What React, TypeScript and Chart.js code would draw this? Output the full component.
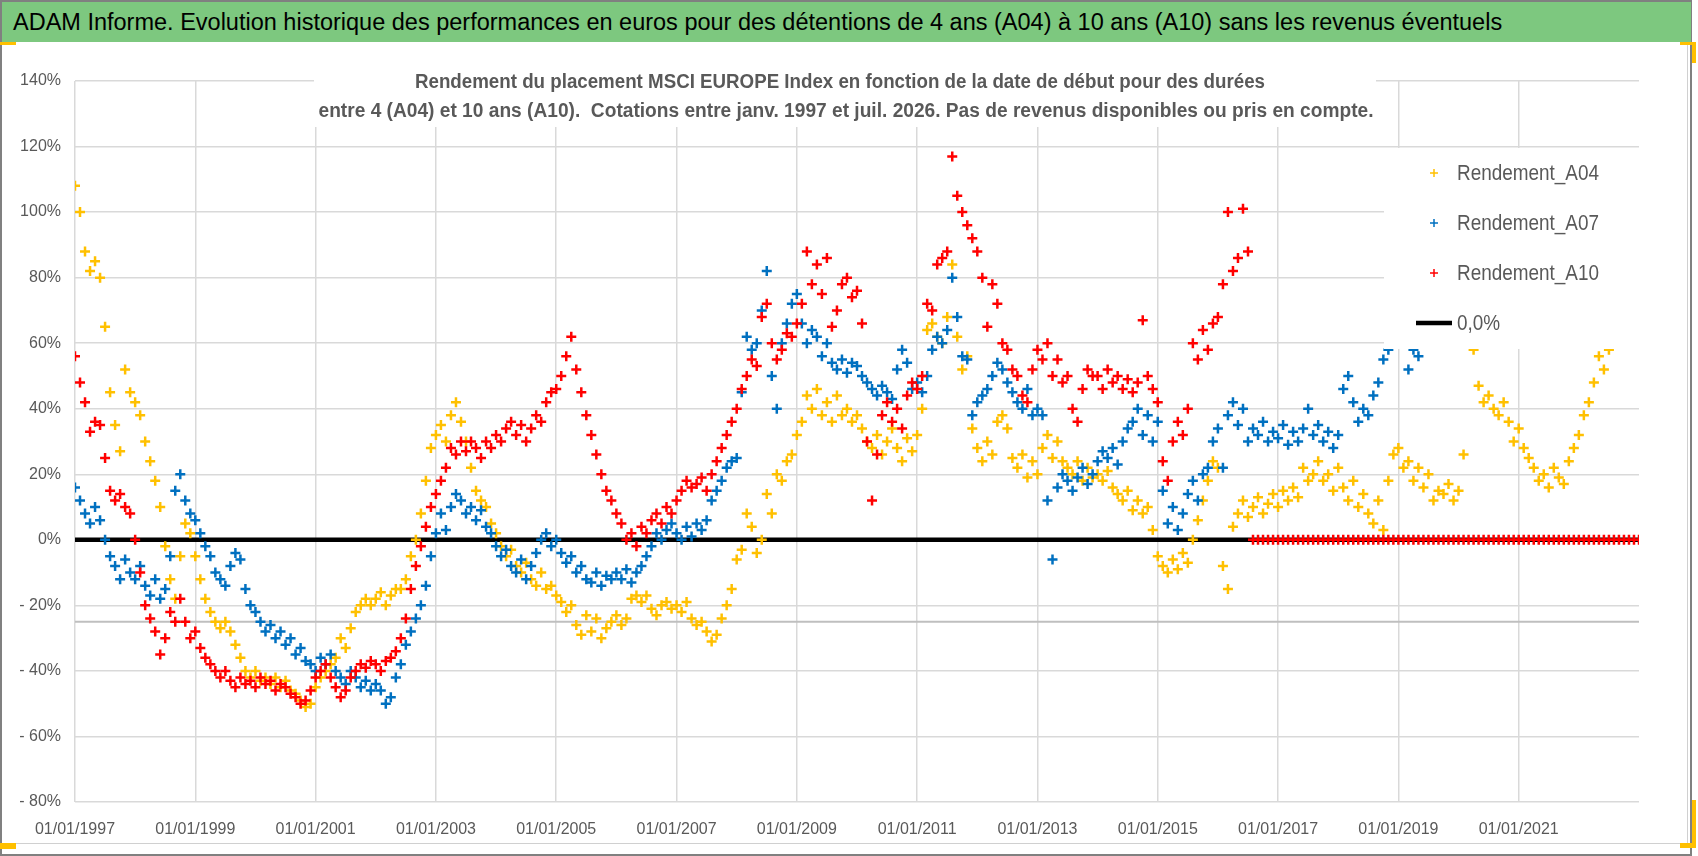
import React, { useEffect, useRef } from "react";
import { Chart, registerables } from "chart.js";

Chart.register(...registerables);

// monthly readings (in %), first value = January 1997
const START_YEAR = 1997;
const END_YEAR = 2023;

const rendementA04 = [
  108, 100, 88, 82, 85, 80, 65, 45, 35, 27, 52, 45,
  42, 38, 30, 24, 18, 10, -2, -12, -18, -5, 5, 2,
  -5, -12, -18, -22, -25, -27, -25, -28, -32, -36, -40, -42,
  -40, -43, -42, -44, -42, -45, -43, -46, -47, -49, -51, -50,
  -45, -42, -40, -38, -36, -30, -33, -27, -22, -20, -18, -20,
  -18, -16, -20, -17, -15, -15, -12, -5, 0, 8, 18, 28,
  32, 35, 30, 38, 42, 36, 30, 22, 15, 12, 10, 5,
  2, -2, -5, -3, -8, -10, -7, -12, -14, -10, -15, -14,
  -17, -19, -22, -20, -26, -29, -23, -28, -24, -30, -27, -25,
  -23, -26, -24, -18, -17, -19, -17, -21, -23, -20, -19, -21,
  -20, -22, -19, -24, -26, -25, -28, -31, -29, -24, -20, -15,
  -6, -3, 8, 4, -4, 0, 14, 8, 20, 18, 24, 26,
  32, 36, 44, 40, 46, 38, 42, 36, 44, 38, 40, 36,
  38, 34, 30, 28, 32, 26, 30, 34, 28, 24, 31, 27,
  32, 40, 64, 66, 62, 60, 68, 84, 62, 52, 56, 34,
  28, 24, 30, 26, 36, 38, 34, 25, 22, 26, 19, 24,
  20, 28, 32, 25, 30, 24, 22, 20, 24, 18, 22, 19,
  20, 18, 21, 16, 14, 12, 15, 9, 12, 8, 10, 3,
  -5, -8, -10, -6, -9, -4, -7, 0, 6, 12, 18, 24,
  22, -8, -15, 4, 8, 12, 7, 10, 13, 8, 11, 14,
  10, 15, 12, 16, 13, 22, 18, 20, 24, 18, 20, 15,
  22, 16, 12, 18, 10, 14, 8, 5, 12, 3, 18, 26,
  28, 22, 24, 18, 22, 16, 20, 12, 15, 14, 17, 12,
  15, 26, 62, 58, 47, 42, 44, 40, 38, 42, 36, 30,
  34, 28, 25, 22, 18, 20, 16, 22, 19, 17, 24, 28,
  32, 38, 42, 48, 56, 52, 58,
];

const rendementA07 = [
  16, 12, 8, 5, 10, 6, 0, -5, -8, -12, -6, -10,
  -12, -8, -14, -17, -12, -18, -15, -5, 15, 20, 12, 8,
  6, 2, -2, -5, -10, -12, -14, -8, -4, -6, -15, -20,
  -22, -25, -28, -26, -30, -28, -32, -30, -35, -33, -37, -38,
  -40, -36, -38, -35, -40, -42, -44, -40, -42, -45, -43, -46,
  -44, -46, -50, -48, -42, -38, -32, -28, -24, -20, -14, -5,
  2, 8, 3, 10, 14, 12, 8, 10, 6, 9, 4, 2,
  -2, -5, -3, -8, -10, -6, -12, -8, -4, 0, 2, -2,
  0, -4, -7, -5, -10, -8, -12, -13, -10, -14, -11, -12,
  -10, -12, -9, -13, -10, -8, -5, -2, 2, 0, 3, 5,
  2, 0, 4, 1, 5, 3, 6, 12, 15, 18, 22, 24,
  25, 45, 62, 58, 60, 70, 82, 50, 40, 60, 66, 72,
  75, 66, 60, 64, 62, 56, 60, 54, 52, 55, 51, 54,
  53, 50, 48, 46, 44, 47, 45, 43, 52, 58, 54, 46,
  48, 45, 50, 58, 62, 60, 64, 80, 68, 56, 55, 38,
  42, 44, 46, 50, 54, 52, 48, 45, 42, 40, 46, 38,
  40, 38, 12, -6, 16, 20, 18, 15, 19, 22, 17, 20,
  24, 27, 25, 28, 23, 30, 34, 36, 40, 32, 38, 30,
  36, 15, 5, 10, 3, 8, 14, 18, 12, 20, 22, 30,
  34, 22, 38, 42, 35, 40, 30, 34, 32, 36, 30, 33,
  31, 35, 29, 33, 30, 34, 40, 32, 35, 30, 33, 28,
  32, 46, 50, 42, 36, 40, 38, 44, 48, 55, 58, 62,
  64, 60, 52, 58, 56,
];

const rendementA10 = [
  56, 48, 42, 33, 36, 35, 25, 15, 12, 14, 10, 8,
  0, -10, -20, -24, -28, -35, -30, -22, -25, -18, -25, -30,
  -28, -33, -36, -38, -40, -42, -40, -43, -45, -42, -44, -43,
  -45, -42, -44, -43, -46, -44, -45, -47, -48, -50, -49, -46,
  -42, -40, -38, -42, -45, -48, -46, -42, -40, -38, -39, -37,
  -38, -40, -37, -36, -34, -30, -24, -15, -8, -2, 4, 10,
  14, 18, 22, 28, 26, 30, 27, 30, 28, 25, 30, 28,
  32, 30, 34, 36, 32, 35, 30, 34, 38, 36, 42, 45,
  46, 50, 56, 62, 52, 45, 38, 32, 26, 20, 15, 12,
  8, 5, 0, 2, -2, 4, 2, 6, 8, 5, 10, 8,
  12, 15, 18, 16, 17, 19, 15, 20, 24, 28, 32, 36,
  40, 46, 50, 55, 53, 68, 72, 60, 55, 58, 63, 62,
  66, 72, 88, 78, 84, 75, 86, 65, 70, 78, 80, 74,
  76, 66, 30, 12, 26, 38, 42, 36, 40, 34, 44, 48,
  46, 50, 72, 70, 84, 86, 88, 117, 105, 100, 96, 92,
  88, 80, 65, 78, 72, 60, 58, 52, 50, 44, 42, 52,
  58, 55, 60, 50, 55, 48, 50, 40, 36, 46, 52, 50,
  50, 46, 52, 48, 50, 46, 49, 45, 48, 67, 50, 46,
  42, 24, 18, 30, 36, 32, 40, 60, 55, 64, 58, 66,
  68, 78, 100, 82, 86, 101, 88, 0, 0, 0, 0, 0,
  0, 0, 0, 0, 0, 0, 0, 0, 0, 0, 0, 0,
  0, 0, 0, 0, 0, 0, 0, 0, 0, 0, 0, 0,
  0, 0, 0, 0, 0, 0, 0, 0, 0, 0, 0, 0,
  0, 0, 0, 0, 0, 0, 0, 0, 0, 0, 0, 0,
  0, 0, 0, 0, 0, 0, 0, 0, 0, 0, 0, 0,
  0, 0, 0, 0, 0, 0, 0, 0, 0, 0, 0, 0,
  0,
];

const zeroLineYears = [START_YEAR, END_YEAR];
const zeroLineValues = [0, 0];

const seriesNames = ["Rendement_A04", "Rendement_A07", "Rendement_A10", "0,0%"];
const seriesColors = ["#FFC000", "#0070C0", "#FF0000", "#000000"];

const headerText =
  "ADAM Informe. Evolution historique des performances en euros pour des détentions de 4 ans (A04) à 10 ans (A10) sans les revenus éventuels";
const chartTitle = [
  "Rendement du placement MSCI EUROPE Index en fonction de la date de début pour des durées",
  "entre 4 (A04) et 10 ans (A10).  Cotations entre janv. 1997 et juil. 2026. Pas de revenus disponibles ou pris en compte.",
];

const FONT = "'Liberation Sans', Arial, sans-serif";
const GREY_TEXT = "#595959";
const GRID = "#d9d9d9";

const toPoints = (values: number[]) =>
  values.map((v, i) => ({ x: START_YEAR + i / 12, y: v }));

// title box and the stray grey rule sit under the marks, legend box over them
const overlayPlugin = {
  id: "overlay",
  beforeDatasetsDraw(chart: any) {
    const { ctx, chartArea, scales } = chart;
    ctx.save();
    const yRule = scales.y.getPixelForValue(-25);
    ctx.strokeStyle = "#bfbfbf";
    ctx.lineWidth = 2;
    ctx.beginPath();
    ctx.moveTo(chartArea.left, yRule);
    ctx.lineTo(chartArea.right, yRule);
    ctx.stroke();

    ctx.fillStyle = "#ffffff";
    ctx.fillRect(313, 15, 1062, 69);
    ctx.fillStyle = GREY_TEXT;
    ctx.font = `bold 20px ${FONT}`;
    ctx.textAlign = "center";
    ctx.textBaseline = "middle";
    ctx.fillText(chartTitle[0], 839, 39, 850);
    ctx.fillText(chartTitle[1], 845, 68, 1055);
    ctx.restore();
  },
  afterDatasetsDraw(chart: any) {
    const { ctx } = chart;
    ctx.save();
    ctx.fillStyle = "#ffffff";
    ctx.fillRect(1383, 105, 262, 201);
    ctx.font = `22px ${FONT}`;
    ctx.textBaseline = "middle";
    ctx.textAlign = "left";
    chart.data.datasets.forEach((ds: any, i: number) => {
      const yc = 130 + i * 50;
      if (ds.pointRadius === 0) {
        ctx.strokeStyle = ds.borderColor;
        ctx.lineWidth = 4.5;
        ctx.beginPath();
        ctx.moveTo(1415, yc);
        ctx.lineTo(1451, yc);
        ctx.stroke();
      } else {
        ctx.strokeStyle = ds.borderColor;
        ctx.lineWidth = 1.5;
        ctx.beginPath();
        ctx.moveTo(1429, yc);
        ctx.lineTo(1437, yc);
        ctx.moveTo(1433, yc - 4);
        ctx.lineTo(1433, yc + 4);
        ctx.stroke();
      }
      ctx.fillStyle = GREY_TEXT;
      const w = ctx.measureText(ds.label).width * 0.86;
      ctx.fillText(ds.label, 1456, yc + 1, w);
    });
    ctx.restore();
  },
};

const ChartPanel: React.FC = () => {
  const canvasRef = useRef<HTMLCanvasElement | null>(null);

  useEffect(() => {
    if (!canvasRef.current) return;

    const scatterSet = (idx: number, values: number[], order: number) => ({
      label: seriesNames[idx],
      data: toPoints(values),
      pointStyle: "cross",
      pointRadius: 5,
      borderColor: seriesColors[idx],
      backgroundColor: seriesColors[idx],
      borderWidth: 2.5,
      showLine: false,
      order,
    });

    const chart = new Chart(canvasRef.current, {
      type: "scatter",
      data: {
        datasets: [
          scatterSet(0, rendementA04, 3),
          scatterSet(1, rendementA07, 2),
          scatterSet(2, rendementA10, 1),
          {
            type: "line",
            label: seriesNames[3],
            data: zeroLineYears.map((yr, i) => ({ x: yr, y: zeroLineValues[i] })),
            borderColor: seriesColors[3],
            backgroundColor: seriesColors[3],
            borderWidth: 4.5,
            pointRadius: 0,
            showLine: true,
            order: 4,
          },
        ],
      },
      options: {
        animation: false,
        responsive: false,
        maintainAspectRatio: false,
        events: [],
        layout: { padding: { left: 0, right: 47, top: 38, bottom: 0 } },
        plugins: {
          legend: { display: false },
          title: { display: false },
          tooltip: { enabled: false },
        },
        scales: {
          x: {
            type: "linear",
            min: START_YEAR,
            max: END_YEAR,
            afterFit: (s: any) => {
              s.height = 41;
            },
            border: { display: false },
            grid: {
              color: (c: any) => (c.tick && c.tick.value === END_YEAR ? "rgba(0,0,0,0)" : GRID),
              lineWidth: 1.5,
              drawTicks: false,
            },
            ticks: {
              stepSize: 2,
              autoSkip: false,
              maxRotation: 0,
              padding: 18,
              color: GREY_TEXT,
              font: { family: FONT, size: 16 },
              callback: (v: any) => (v < END_YEAR ? `01/01/${v}` : ""),
            },
          },
          y: {
            min: -80,
            max: 140,
            afterFit: (s: any) => {
              s.width = 74;
            },
            border: { display: false },
            grid: { color: GRID, lineWidth: 1.5, drawTicks: false },
            ticks: {
              stepSize: 20,
              padding: 14,
              color: GREY_TEXT,
              font: { family: FONT, size: 16 },
              callback: (v: any) => (v < 0 ? `- ${-v}%` : `${v}%`),
            },
          },
        },
      },
      plugins: [overlayPlugin],
    } as any);

    return () => {
      chart.destroy();
    };
  }, []);

  return (
    <canvas
      ref={canvasRef}
      width={1685}
      height={800}
      style={{ position: "absolute", left: 1, top: 43, width: 1685, height: 800 }}
    ></canvas>
  );
};

const handle = (left: number, top: number, width: number, height: number) => (
  <div style={{ position: "absolute", left, top, width, height, background: "#FFC000" }} />
);

const App: React.FC = () => {
  return (
    <div style={{ position: "absolute", left: 0, top: 0, width: 1698, height: 856, background: "#fff", overflow: "hidden" }}>
      <div
        style={{
          position: "absolute",
          left: 0,
          top: 0,
          width: 1692,
          height: 856,
          boxSizing: "border-box",
          border: "2px solid #808080",
        }}
      />
      <div
        style={{
          position: "absolute",
          left: 2,
          top: 2,
          width: 1689,
          height: 40,
          background: "#7DC87F",
          color: "#000",
          fontFamily: FONT,
          fontSize: 23.5,
          lineHeight: "40px",
          paddingLeft: 11,
          boxSizing: "border-box",
          whiteSpace: "nowrap",
        }}
      >
        {headerText}
      </div>
      <div
        style={{
          position: "absolute",
          left: 1,
          top: 42,
          width: 1687,
          height: 802,
          boxSizing: "border-box",
          borderRight: "1px solid #d0d0d0",
          borderBottom: "1px solid #d0d0d0",
        }}
      />
      <ChartPanel />
      {handle(0, 42, 16, 3)}
      {handle(1680, 42, 16, 3)}
      {handle(1692, 42, 4, 21)}
      {handle(0, 843, 16, 6)}
      {handle(1680, 843, 16, 5)}
      {handle(1692, 800, 4, 48)}
    </div>
  );
};

export default App;
